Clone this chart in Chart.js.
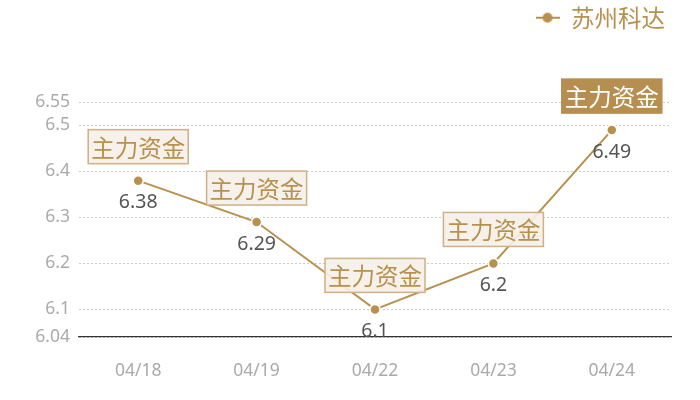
<!DOCTYPE html>
<html>
<head>
<meta charset="utf-8">
<script src="https://cdn.jsdelivr.net/npm/chart.js@4/dist/chart.umd.min.js"></script>
<style>
  html, body { margin: 0; padding: 0; background: #fff; }
  #wrap { width: 700px; height: 400px; }
</style>
</head>
<body>
<div id="wrap"><canvas id="myChart"></canvas></div>
<script>
// data
const dates = ['04/18', '04/19', '04/22', '04/23', '04/24'];
const prices = [6.38, 6.29, 6.1, 6.2, 6.49];
const yTicks = [6.04, 6.1, 6.2, 6.3, 6.4, 6.5, 6.55];
const tagText = '主力资金';
const seriesName = '苏州科达';

const gold = '#b8914f';
const font = "'Noto Sans', 'Noto Sans CJK SC', sans-serif";
const cjk = "'Noto Sans CJK SC', sans-serif";

// legend marker: short line with a dot
const marker = document.createElement('canvas');
marker.width = 24; marker.height = 12;
(function () {
    const c = marker.getContext('2d');
    c.strokeStyle = gold; c.lineWidth = 2;
    c.beginPath(); c.moveTo(0, 6); c.lineTo(24, 6); c.stroke();
    c.fillStyle = gold;
    c.beginPath(); c.arc(12, 6, 5, 0, Math.PI * 2); c.fill();
})();

// push the plot down below the legend
const legendGap = {
    id: 'legendGap',
    beforeInit(chart) {
        const fit = chart.legend.fit;
        chart.legend.fit = function () {
            fit.bind(chart.legend)();
            this.height += 63;
        };
    }
};

// tag boxes above the points and values under them
const tags = {
    id: 'tags',
    afterDatasetsDraw(chart) {
        const ctx = chart.ctx;
        const pts = chart.getDatasetMeta(0).data;
        ctx.save();
        pts.forEach((p, i) => {
            const last = i === pts.length - 1;
            const w = 100, h = 34;
            const x = p.x - w / 2, y = p.y - 17 - h;
            ctx.fillStyle = last ? '#b58e50' : 'rgba(245,240,232,0.92)';
            ctx.fillRect(x, y, w, h);
            ctx.strokeStyle = last ? '#b58e50' : '#cfb083';
            ctx.lineWidth = 1.5;
            ctx.strokeRect(x, y, w, h);
            ctx.fillStyle = last ? '#ffffff' : gold;
            ctx.font = '23.5px ' + cjk;
            ctx.textAlign = 'center';
            ctx.textBaseline = 'middle';
            ctx.fillText(tagText, p.x, y + h / 2 + 1);

            ctx.fillStyle = '#555555';
            ctx.font = '19.5px ' + font;
            ctx.fillText(String(prices[i]), p.x, p.y + 22);
        });
        ctx.restore();
    }
};

const config = {
    type: 'line',
    data: {
        labels: dates,
        datasets: [{
            label: seriesName,
            data: prices,
            borderColor: gold,
            backgroundColor: gold,
            borderWidth: 2,
            pointRadius: 5,
            pointBackgroundColor: gold,
            pointBorderColor: '#ffffff',
            pointBorderWidth: 1.5,
            tension: 0
        }]
    },
    options: {
        responsive: true,
        maintainAspectRatio: false,
        animation: false,
        layout: { padding: { left: 0, right: 29, top: 0, bottom: 0 } },
        plugins: {
            legend: {
                display: true,
                position: 'top',
                align: 'end',
                labels: {
                    usePointStyle: true,
                    pointStyle: marker,
                    color: gold,
                    font: { family: cjk, size: 23.5 },
                    padding: 6
                }
            },
            tooltip: { enabled: false }
        },
        scales: {
            x: {
                offset: true,
                grid: { display: false, drawTicks: false },
                border: { display: true, color: '#333333', width: 1.2 },
                ticks: { color: '#aaaaaa', font: { family: font, size: 17.5 }, padding: 24 },
                afterFit(scale) { scale.height = 63; }
            },
            y: {
                min: 6.04,
                max: 6.55,
                afterBuildTicks(scale) { scale.ticks = yTicks.map(v => ({ value: v })); },
                grid: { color: '#cccccc', drawTicks: false },
                border: { display: false, dash: [2, 2] },
                ticks: {
                    color: '#aaaaaa',
                    font: { family: font, size: 17.5 },
                    padding: 9,
                    callback: v => String(v)
                },
                afterFit(scale) { scale.width = 79; }
            }
        }
    },
    plugins: [legendGap, tags]
};

let myChart = new Chart(document.getElementById('myChart'), config);
</script>
</body>
</html>
